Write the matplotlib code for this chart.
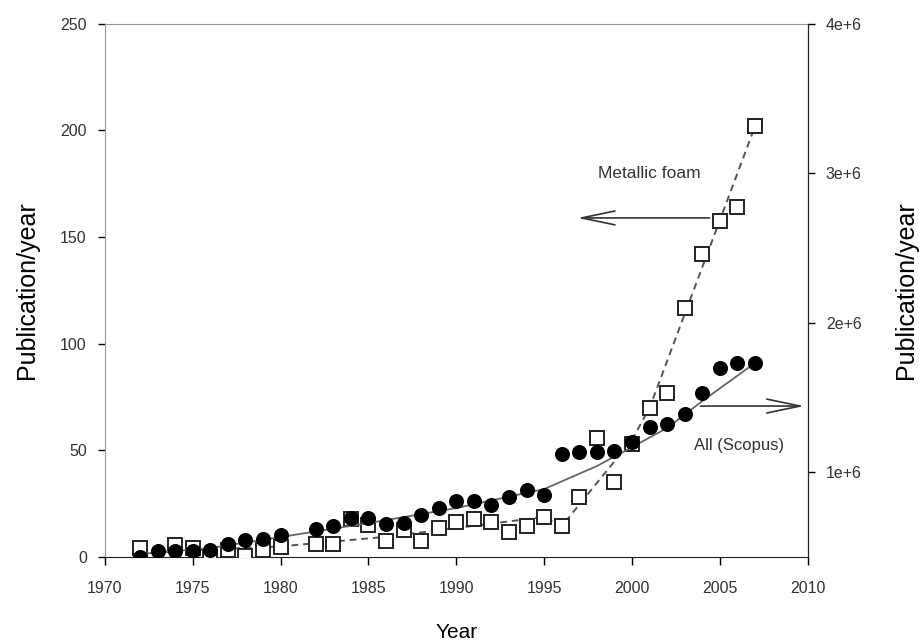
import numpy as np
import matplotlib
matplotlib.use("Agg")
import matplotlib.pyplot as plt

plt.rcParams['font.family'] = ['Liberation Sans', 'DejaVu Sans']

# Metallic foam publications per year (left axis, open squares)
foam_years = [1972, 1974, 1975, 1976, 1977, 1978, 1979, 1980, 1982, 1983,
              1984, 1985, 1986, 1987, 1988, 1989, 1990, 1991, 1992, 1993,
              1994, 1995, 1996, 1997, 1998, 1999, 2000, 2001, 2002, 2003,
              2004, 2005, 2006, 2007]
foam_pubs = [4.2, 5.6, 4.2, 0.5, 3.3, 0.5, 3.3, 4.7, 6.1, 6.1,
             18, 15, 7.5, 12.7, 7.5, 13.6, 16.4, 17.8, 16.4, 11.7,
             14.5, 18.8, 14.5, 28.1, 55.8, 35.2, 53, 69.9, 76.9, 116.8,
             142.1, 157.6, 164.2, 202.2]

# All publications in Scopus (right axis, filled circles)
all_years = [1972, 1973, 1974, 1975, 1976, 1977, 1978, 1979, 1980, 1982,
             1983, 1984, 1985, 1986, 1987, 1988, 1989, 1990, 1991, 1992,
             1993, 1994, 1995, 1996, 1997, 1998, 1999, 2000, 2001, 2002,
             2003, 2004, 2005, 2006, 2007]
all_pubs = [0.43e6, 0.471e6, 0.471e6, 0.471e6, 0.478e6, 0.518e6, 0.545e6, 0.551e6, 0.578e6, 0.618e6,
            0.638e6, 0.692e6, 0.692e6, 0.652e6, 0.659e6, 0.712e6, 0.759e6, 0.806e6, 0.806e6, 0.779e6,
            0.833e6, 0.880e6, 0.846e6, 1.120e6, 1.134e6, 1.134e6, 1.141e6, 1.201e6, 1.301e6, 1.321e6,
            1.388e6, 1.529e6, 1.696e6, 1.730e6, 1.730e6]

# trend lines
foam_trend_years = [1972, 1980, 1986, 1995, 1996, 2000, 2001, 2007]
foam_trend = [2, 5, 9.5, 18.8, 14.5, 55, 70, 202]
all_trend_years = [1972, 1976, 1980, 1985, 1990, 1995, 1998, 2000, 2002, 2004, 2007]
all_trend = [0.451e6, 0.491e6, 0.565e6, 0.658e6, 0.759e6, 0.886e6, 1.040e6,
             1.167e6, 1.295e6, 1.475e6, 1.730e6]

x_ticks = [1970, 1975, 1980, 1985, 1990, 1995, 2000, 2005, 2010]
left_ticks = [0, 50, 100, 150, 200, 250]
right_ticks = [1e6, 2e6, 3e6, 4e6]
right_labels = ['1e+6', '2e+6', '3e+6', '4e+6']

fig = plt.figure(figsize=(9.2, 6.44), dpi=100)
ax = fig.add_axes([0.114, 0.135, 0.764, 0.828])
ax2 = ax.twinx()

ax.plot(foam_trend_years, foam_trend, color='#555555', lw=1.4,
        linestyle=(0, (3.5, 2.5)), zorder=2)
ax.plot(foam_years, foam_pubs, linestyle='none', marker='s', ms=10,
        mfc='white', mec='#222222', mew=1.4, zorder=3)

ax2.plot(all_trend_years, all_trend, color='#666666', lw=1.3, zorder=2)
ax2.plot(all_years, all_pubs, linestyle='none', marker='o', ms=9.8,
         mfc='black', mec='black', zorder=4)

ax.set_xlim(1970, 2010)
ax.set_ylim(0, 250)
ax2.set_ylim(0.4308e6, 4e6)

ax.set_xticks(x_ticks)
ax.set_yticks(left_ticks)
ax2.set_yticks(right_ticks)
ax2.set_yticklabels(right_labels)

for a in (ax, ax2):
    a.tick_params(direction='out', length=5, width=1, labelsize=11.5,
                  labelcolor='#333333', pad=8)
ax.tick_params(axis='x', length=6, pad=11)

ax.spines['left'].set_color('#999999')
ax.spines['top'].set_color('#999999')
ax2.spines['left'].set_visible(False)
ax2.spines['top'].set_visible(False)
ax.spines['bottom'].set_color('#222222')
ax2.spines['right'].set_color('#222222')
ax2.spines['bottom'].set_visible(False)

ax.set_xlabel('Year', fontsize=15, labelpad=20)
ax.set_ylabel('Publication/year', fontsize=18, labelpad=15)
ax2.set_ylabel('Publication/year', fontsize=18, labelpad=23)

arrow_style = dict(arrowstyle='->, head_length=2.4, head_width=0.5',
                   color='#333333', lw=1.2, shrinkA=0, shrinkB=0)
ax.text(2001.0, 180, 'Metallic foam', ha='center', va='center',
        fontsize=12.5, color='#333333')
ax.annotate('', xy=(1996.9, 159), xytext=(2004.4, 159), arrowprops=arrow_style)
ax.text(2006.1, 52.5, 'All (Scopus)', ha='center', va='center',
        fontsize=12, color='#333333')
ax.annotate('', xy=(2009.8, 70.8), xytext=(2003.9, 70.8),
            arrowprops=arrow_style, annotation_clip=False)

fig.savefig('out.png', dpi=100)
